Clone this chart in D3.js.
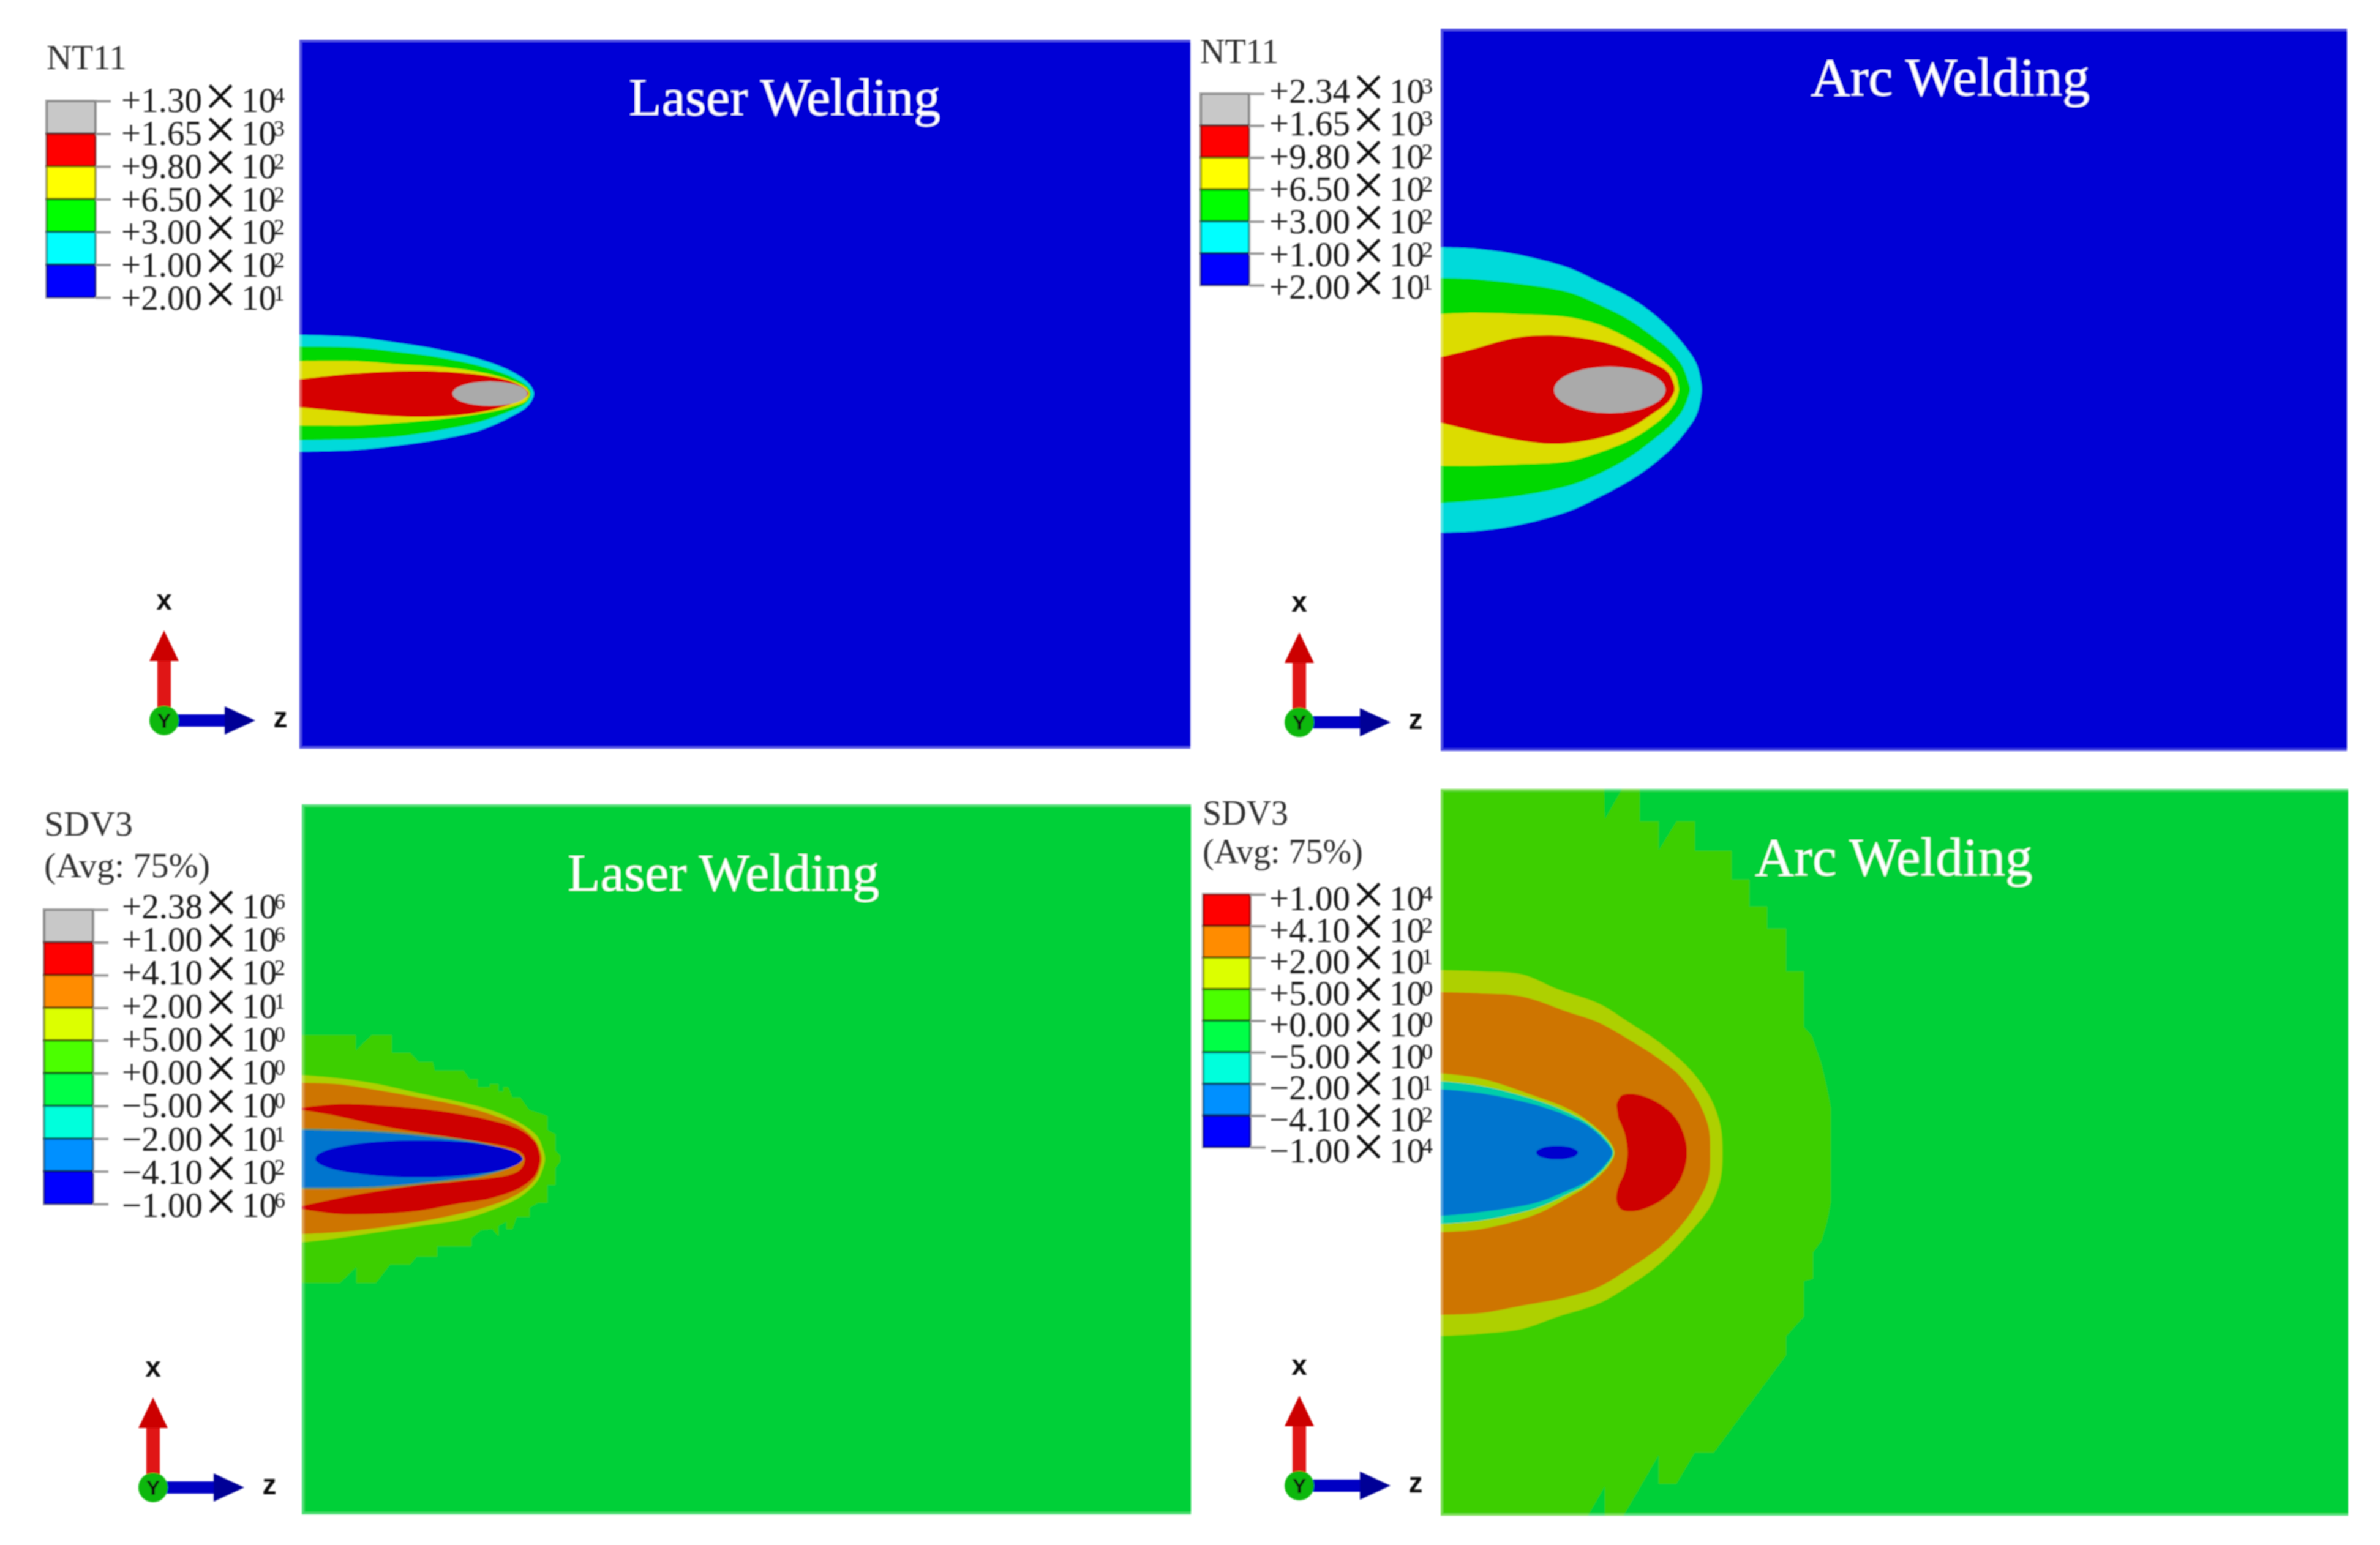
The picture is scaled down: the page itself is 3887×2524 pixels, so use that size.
<!DOCTYPE html>
<html>
<head>
<meta charset="utf-8">
<script src="https://cdn.jsdelivr.net/npm/d3@7"></script>
<style>
  html, body { margin: 0; background: #fff; }
  svg { display: block; }
  text { font-family: "Liberation Serif", "Times New Roman", serif; }
  .triad text { font-family: "Liberation Sans", Arial, sans-serif; font-weight: bold; }
</style>
</head>
<body>
<svg id="chart"></svg>
<script>
// legend values, one list per contour plot
var laserTempMant = ["+1.30", "+1.65", "+9.80", "+6.50", "+3.00", "+1.00", "+2.00"]
var laserTempExp = [4, 3, 2, 2, 2, 2, 1]
var arcTempMant = ["+2.34", "+1.65", "+9.80", "+6.50", "+3.00", "+1.00", "+2.00"]
var arcTempExp = [3, 3, 2, 2, 2, 2, 1]
var laserStressMant = ["+2.38", "+1.00", "+4.10", "+2.00", "+5.00", "+0.00", "\u22125.00", "\u22122.00", "\u22124.10", "\u22121.00"]
var laserStressExp = [6, 6, 2, 1, 0, 0, 0, 1, 2, 6]
var arcStressMant = ["+1.00", "+4.10", "+2.00", "+5.00", "+0.00", "\u22125.00", "\u22122.00", "\u22124.10", "\u22121.00"]
var arcStressExp = [4, 2, 1, 0, 0, 0, 1, 2, 4]

// contour edges: [distance along z, extent above the weld line, extent below it]
var laserTemp100 = [[0,96,95],[91,92,92],[157,83,85],[224,72,75],[291,56,60],[341,37,38],[367,20,22],[376,9,10],[379,0,0]]
var laserTemp300 = [[0,77,76],[91,75,74],[157,68,70],[224,59,60],[291,45,46],[341,28,28],[364,15,17],[372,7,8],[374,0,0]]
var laserTemp650 = [[0,53,52],[91,53,52],[157,48,48],[224,44,42],[291,35,33],[341,22,22],[366,10,12],[372,0,0]]
var laserTemp980 = [[0,23,22],[57,30,28],[124,35,35],[191,37,38],[257,34,35],[307,28,27],[341,20,17],[364,8,7],[370,0,0]]
var laserTempCore = [307, 0, 61, 20]

var arcTemp100 = [[0,232,234],[50,230,232],[117,221,223],[203,199,200],[253,176,177],[303,151,150],[336,129,128],[370,99,99],[396,69,69],[413,43,43],[421,13,13],[422,0,0]]
var arcTemp300 = [[0,182,186],[50,180,182],[117,173,175],[203,159,158],[253,139,139],[303,114,112],[336,91,88],[370,64,60],[390,39,36],[400,13,13],[403,0,0]]
var arcTemp650 = [[0,123,125],[50,125,125],[117,123,123],[203,118,118],[253,106,104],[303,83,84],[336,63,64],[363,43,42],[380,23,19],[384,6,6],[385,0,0]]
var arcTemp980 = [[0,52,54],[50,66,68],[117,84,82],[183,88,89],[253,79,80],[303,63,64],[336,46,44],[366,29,22],[375,13,9],[378,0,0]]
var arcTempCore = [272, -1, 91, 38]

// the +0 stress zone follows the mesh, so it stays a stepped outline: [z, x]
var laserStressZero = [[0,202],[84,202],[84,177],[110,202],[143,202],[143,173],[173,173],[187,158],[210,158],[213,144],[260,144],[270,130],[283,130],[283,117],[303,117],[303,122],[317,122],[317,110],[325,110],[325,117],[333,117],[340,100],[353,100],[367,80],[397,70],[397,47],[410,40],[410,13],[418,5],[418,-5],[410,-15],[410,-43],[397,-43],[397,-72],[382,-72],[368,-80],[368,-95],[347,-95],[340,-115],[330,-115],[330,-103],[317,-110],[317,-127],[307,-115],[288,-117],[273,-130],[273,-143],[217,-143],[217,-160],[183,-160],[173,-173],[140,-173],[117,-203],[85,-203],[85,-177],[58,-203],[0,-203]]
var laserStress5 = [[0,137,137],[53,132,130],[120,122,120],[187,107,110],[253,93,100],[303,80,85],[353,58,62],[380,37,37],[389,18,18],[393,0,0]]
var laserStress20 = [[0,124,123],[53,122,120],[120,112,113],[187,100,103],[253,87,90],[303,73,77],[353,52,55],[377,30,33],[385,14,15],[388,0,0]]
var laserStress410 = [[0,83,82],[53,89,90],[120,87,90],[187,82,85],[253,73,73],[303,63,65],[353,47,47],[377,27,27],[383,12,12],[385,0,0]]
var laserStressBack = [[0,80,78],[53,70,65],[120,55,53],[187,43,43],[253,33,37],[350,13,20],[360,0,0]]
var laserStressFringe = [[0,50,50],[120,46,48],[220,37,39],[287,27,30],[340,11,13],[357,0,0]]
var laserStressNeg410 = [[0,47,47],[120,43,45],[220,34,36],[287,25,27],[340,10,12],[357,0,0]]
var laserStressCore = [187, 0, 169, 30]

var arcStressZero = [[0,594],[267,594],[268,545],[296,594],[325,594],[325,541],[356,541],[356,494],[385,541],[415,541],[415,493],[475,493],[475,446],[504,446],[504,402],[533,402],[533,366],[564,366],[564,296],[593,296],[593,205],[606,191],[622,144],[631,105],[637,74],[637,-82],[631,-113],[622,-144],[608,-163],[608,-206],[593,-210],[593,-268],[564,-300],[564,-331],[446,-490],[415,-490],[385,-541],[356,-541],[356,-494],[298,-594],[268,-594],[268,-545],[240,-594],[0,-594]]
var arcStress5 = [[0,298,300],[66,296,296],[133,291,288],[191,267,268],[259,243,246],[307,213,218],[357,180,182],[407,136,130],[440,90,88],[457,43,43],[460,0,0]]
var arcStress20 = [[0,262,265],[66,260,262],[133,255,250],[207,230,236],[257,213,220],[307,185,190],[357,153,155],[390,126,122],[417,90,85],[437,43,43],[440,0,0]]
var arcStressInner5 = [[0,130,130],[66,121,125],[155,92,101],[207,72,74],[240,52,54],[274,21,22],[284,0,0]]
var arcStressInnerNeg5 = [[0,117,117],[66,109,111],[155,86,91],[207,66,68],[240,48,50],[272,19,20],[282,0,0]]
var arcStressNeg410 = [[0,104,104],[66,97,97],[155,78,82],[207,60,62],[240,44,46],[270,17,18],[280,0,0]]
var arcStressLobe = [[287,78],[295,93],[320,95],[357,80],[384,56],[399,23],[402,0],[399,-23],[384,-56],[357,-80],[320,-95],[295,-93],[287,-78],[290,-56],[300,-33],[305,0],[300,33],[290,56]]
var arcStressCore = [190, 0, 34, 11]

// colours
var tempLegend = ["#c8c8c8", "#ff0000", "#ffff00", "#00ff00", "#00ffff", "#0000ff"]
var stressLegend = ["#ff0000", "#ff8c00", "#dcff00", "#4cff00", "#00ff46", "#00ffdc", "#0090ff", "#0000ff"]
var tempFill = {bg: "#0000d6", c100: "#00dada", c300: "#00d800", c650: "#dcdc00", c980: "#d60000", core: "#aaaaaa"}
var stressFill = {bg: "#00d038", zero: "#3ccf00", five: "#aed000", twenty: "#ce7400", high: "#ce0000",
  neg5: "#00ceaa", fringe: "#6e8f60", neg410: "#0074ce", low: "#0000ce"}

var W = 3887, H = 2524
var svg = d3.select("#chart").attr("width", W).attr("height", H)

var defs = svg.append("defs")
defs.append("filter").attr("id", "soft")
  .attr("filterUnits", "userSpaceOnUse")
  .attr("x", 0).attr("y", 0).attr("width", W).attr("height", H)
  .append("feGaussianBlur").attr("stdDeviation", 1.1)

var root = svg.append("g").attr("filter", "url(#soft)")

var edgeLine = d3.line().curve(d3.curveCatmullRom.alpha(0.5))
var meshLine = d3.line()

var drawPanel = function(p) {
  var zScale = d3.scaleLinear().domain([0, p.right - p.origin]).range([p.origin, p.right])
  var xScale = d3.scaleLinear().domain([p.mid - p.bottom, p.mid - p.top]).range([p.bottom, p.top])

  // bands run on past z=0 so they also cover the light rim of the plot
  var rimZ = function(z) { return z === 0 ? zScale(-6) : zScale(z) }

  defs.append("clipPath").attr("id", p.id + "-clip")
    .append("rect")
    .attr("x", p.left).attr("y", p.top)
    .attr("width", p.right - p.left).attr("height", p.bottom - p.top)

  var g = root.append("g").attr("clip-path", "url(#" + p.id + "-clip)")

  g.append("rect")
    .attr("x", p.left).attr("y", p.top)
    .attr("width", p.right - p.left).attr("height", p.bottom - p.top)
    .attr("fill", p.bg)

  var api = {
    // rows of [z, up, down], goes out along the top and back along the bottom
    band: function(rows, color) {
      var pts = rows.map(function(d) { return [rimZ(d[0]), xScale(d[1])] })
      var back = rows.slice(0, -1).reverse().map(function(d) { return [rimZ(d[0]), xScale(-d[2])] })
      g.append("path")
        .attr("d", edgeLine(pts.concat(back)) + "Z")
        .attr("fill", color)
      return api
    },
    outline: function(pts, color, line) {
      g.append("path")
        .attr("d", line(pts.map(function(d) { return [rimZ(d[0]), xScale(d[1])] })) + "Z")
        .attr("fill", color)
      return api
    },
    core: function(c, color) {
      g.append("ellipse")
        .attr("cx", zScale(c[0])).attr("cy", xScale(c[1]))
        .attr("rx", zScale(c[2]) - zScale(0))
        .attr("ry", xScale(0) - xScale(c[3]))
        .attr("fill", color)
      return api
    }
  }

  api.finish = function() {
    // light rim the export left on the plot edges
    g.append("rect")
      .attr("x", p.left + 2).attr("y", p.top + 2)
      .attr("width", p.right - p.left).attr("height", p.bottom - p.top - 4)
      .attr("fill", "none").attr("stroke", "#fff")
      .attr("stroke-opacity", 0.3).attr("stroke-width", 4)

    root.append("text")
      .attr("x", p.titleX).attr("y", p.titleY)
      .attr("font-size", p.titleSize).attr("fill", "#fff")
      .text(p.title)
  }
  return api
}

var drawLegend = function(l) {
  var g = root.append("g")

  l.heading.forEach(function(t, i) {
    g.append("text")
      .attr("x", l.headX).attr("y", l.headY[i])
      .attr("font-size", l.headSize).attr("fill", "#333")
      .text(t)
  })

  var n = l.mant.length
  var levels = d3.range(n)
  var tickY = d3.scalePoint().domain(levels).range([l.barTop, l.barBottom])
  var textY = d3.scalePoint().domain(levels).range([l.textTop, l.textBottom])

  g.selectAll(".swatch")
    .data(l.colors)
    .enter()
    .append("rect")
    .attr("class", "swatch")
    .attr("x", l.barX)
    .attr("y", function(d, i) { return tickY(i) })
    .attr("width", l.barW)
    .attr("height", function(d, i) { return tickY(i + 1) - tickY(i) })
    .attr("fill", function(d) { return d })
    .attr("stroke", "#000").attr("stroke-opacity", 0.42).attr("stroke-width", 4)

  var axis = d3.axisRight(tickY).tickSize(25).tickFormat("")
  g.append("g")
    .attr("transform", "translate(" + (l.barX + l.barW) + ",0)")
    .call(axis)
    .call(function(a) {
      a.select(".domain").remove()
      a.selectAll("line").attr("stroke", "#999").attr("stroke-width", 4)
    })

  // one text per level: mantissa, times sign, ten, exponent
  var rows = g.selectAll(".level").data(l.mant).enter().append("text")
    .attr("class", "level")
    .attr("font-size", 57).attr("fill", "#1a1a1a")

  rows.append("tspan")
    .attr("x", l.textX)
    .attr("y", function(d, i) { return textY(i) })
    .text(function(d) { return d })

  rows.append("tspan")
    .attr("x", l.textX + 162)
    .attr("y", function(d, i) { return textY(i) + 6 })
    .attr("font-size", 95).attr("text-anchor", "middle").attr("fill", "#111")
    .text("\u00d7")

  rows.append("tspan")
    .attr("x", l.textX + 196)
    .attr("y", function(d, i) { return textY(i) })
    .text("10")

  rows.append("tspan")
    .attr("x", l.textX + 249)
    .attr("y", function(d, i) { return textY(i) - 15 })
    .attr("font-size", 36)
    .text(function(d, i) { return l.exp[i] })
}

var drawTriad = function(cx, cy) {
  var g = root.append("g").attr("class", "triad")
    .attr("transform", "translate(" + cx + "," + cy + ")")

  g.append("rect").attr("x", -11).attr("y", -100).attr("width", 22).attr("height", 85).attr("fill", "#e01414")
  g.append("path").attr("d", "M0,-147L24,-97L-24,-97Z").attr("fill", "#cc0000")
  g.append("rect").attr("x", 15).attr("y", -10).attr("width", 90).attr("height", 20).attr("fill", "#0000c4")
  g.append("path").attr("d", "M99,-23L149,0L99,23Z").attr("fill", "#000096")
  g.append("circle").attr("r", 24).attr("fill", "#08b808")

  g.append("text").attr("x", 0).attr("y", -181).attr("font-size", 46).attr("text-anchor", "middle").attr("fill", "#111").text("x")
  g.append("text").attr("x", 190).attr("y", 11).attr("font-size", 46).attr("text-anchor", "middle").attr("fill", "#111").text("z")
  g.append("text").attr("x", 0).attr("y", 12).attr("font-size", 34).attr("text-anchor", "middle").attr("fill", "#111").text("Y")
}

// top left, laser temperature
var a = drawPanel({id: "a", left: 489, origin: 493, right: 1944, top: 65, bottom: 1223, mid: 643, bg: tempFill.bg,
  title: "Laser Welding", titleX: 1027, titleY: 188, titleSize: 87.5})
a.band(laserTemp100, tempFill.c100)
  .band(laserTemp300, tempFill.c300)
  .band(laserTemp650, tempFill.c650)
  .band(laserTemp980, tempFill.c980)
  .core(laserTempCore, tempFill.core)
a.finish()
drawLegend({heading: ["NT11"], headX: 76, headY: [113], headSize: 57, mant: laserTempMant, exp: laserTempExp, colors: tempLegend,
  barX: 76, barW: 80, barTop: 165, barBottom: 486, textX: 198, textTop: 183, textBottom: 506})
drawTriad(268, 1177)

// top right, arc temperature
var b = drawPanel({id: "b", left: 2353, origin: 2357, right: 3833, top: 47, bottom: 1227, mid: 636, bg: tempFill.bg,
  title: "Arc Welding", titleX: 2957, titleY: 156, titleSize: 89.5})
b.band(arcTemp100, tempFill.c100)
  .band(arcTemp300, tempFill.c300)
  .band(arcTemp650, tempFill.c650)
  .band(arcTemp980, tempFill.c980)
  .core(arcTempCore, tempFill.core)
b.finish()
drawLegend({heading: ["NT11"], headX: 1960, headY: [103], headSize: 56, mant: arcTempMant, exp: arcTempExp, colors: tempLegend,
  barX: 1961, barW: 79, barTop: 153, barBottom: 466, textX: 2073, textTop: 168, textBottom: 488})
drawTriad(2122, 1180)

// bottom left, laser stress
var c = drawPanel({id: "c", left: 493, origin: 497, right: 1945, top: 1314, bottom: 2474, mid: 1893, bg: stressFill.bg,
  title: "Laser Welding", titleX: 927, titleY: 1455, titleSize: 87.5})
c.outline(laserStressZero, stressFill.zero, meshLine)
  .band(laserStress5, stressFill.five)
  .band(laserStress20, stressFill.twenty)
  .band(laserStress410, stressFill.high)
  .band(laserStressBack, stressFill.twenty)
  .band(laserStressFringe, stressFill.fringe)
  .band(laserStressNeg410, stressFill.neg410)
  .core(laserStressCore, stressFill.low)
c.finish()
drawLegend({heading: ["SDV3", "(Avg: 75%)"], headX: 72, headY: [1365, 1433], headSize: 58, mant: laserStressMant, exp: laserStressExp,
  colors: ["#c8c8c8"].concat(stressLegend),
  barX: 72, barW: 80, barTop: 1486, barBottom: 1967, textX: 199, textTop: 1500, textBottom: 1988})
drawTriad(250, 2430)

// bottom right, arc stress
var d = drawPanel({id: "d", left: 2353, origin: 2353, right: 3835, top: 1289, bottom: 2476, mid: 1883, bg: stressFill.bg,
  title: "Arc Welding", titleX: 2866, titleY: 1430, titleSize: 89})
d.outline(arcStressZero, stressFill.zero, meshLine)
  .band(arcStress5, stressFill.five)
  .band(arcStress20, stressFill.twenty)
  .band(arcStressInner5, stressFill.five)
  .band(arcStressInnerNeg5, stressFill.neg5)
  .band(arcStressNeg410, stressFill.neg410)
  .outline(arcStressLobe, stressFill.high, edgeLine)
  .core(arcStressCore, stressFill.low)
d.finish()
drawLegend({heading: ["SDV3", "(Avg: 75%)"], headX: 1964, headY: [1347, 1410], headSize: 56, mant: arcStressMant, exp: arcStressExp,
  colors: stressLegend,
  barX: 1965, barW: 77, barTop: 1461, barBottom: 1874, textX: 2073, textTop: 1487, textBottom: 1899})
drawTriad(2122, 2427)
</script>
</body>
</html>
